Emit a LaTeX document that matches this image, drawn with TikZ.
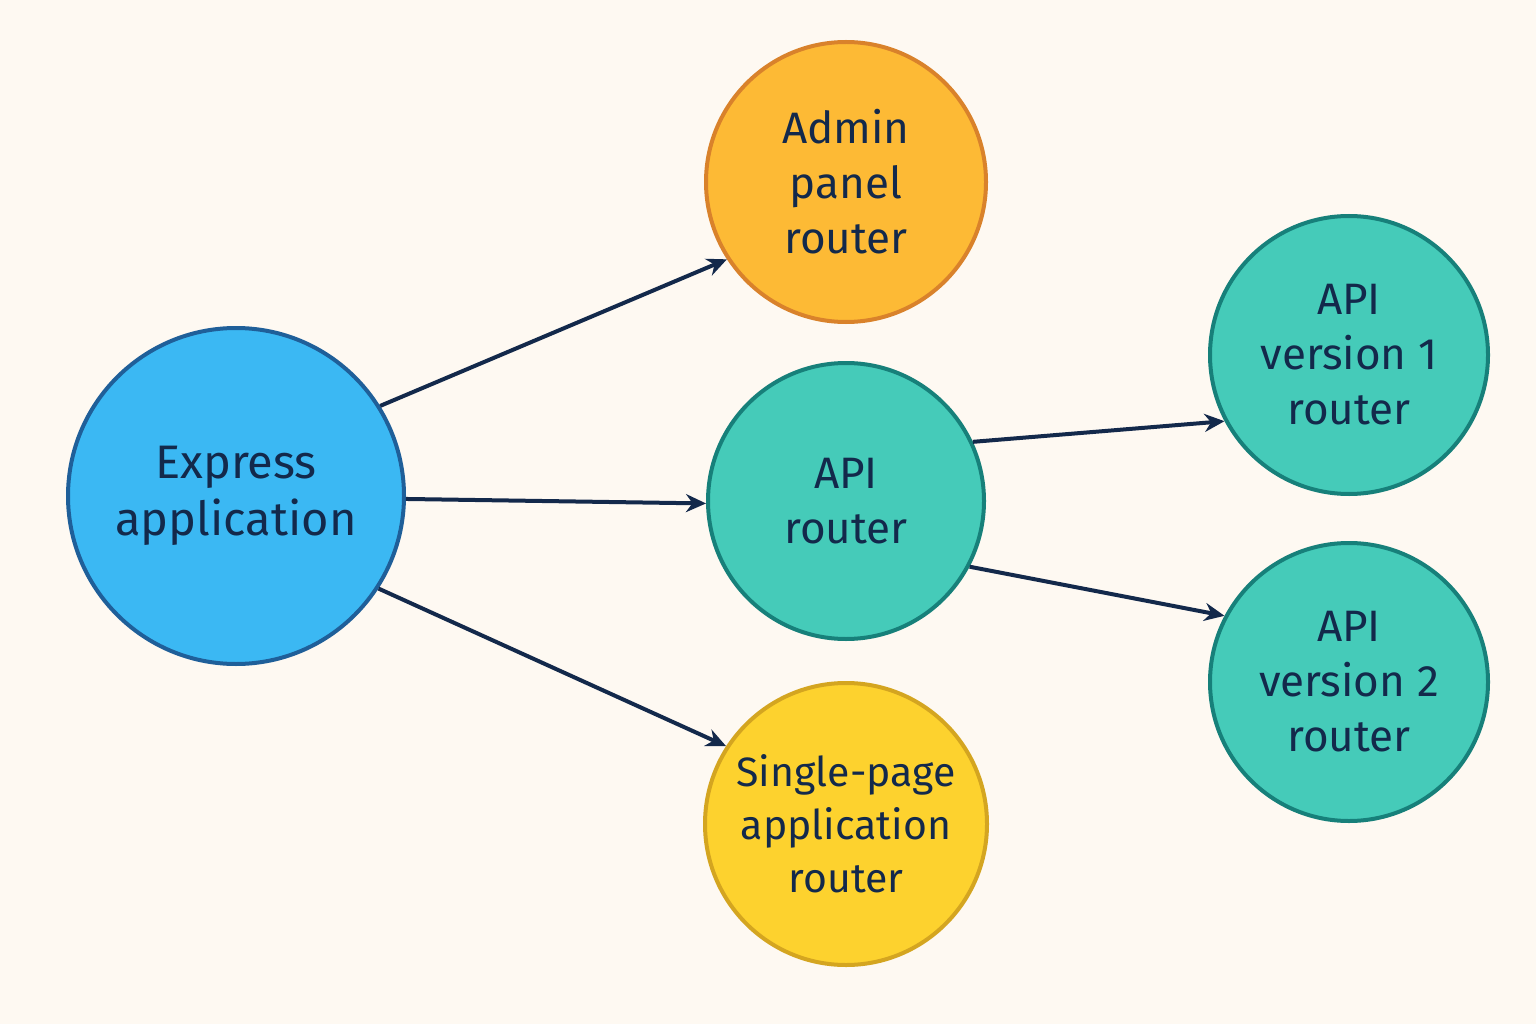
\documentclass[tikz,border=0pt]{standalone}
\usepackage{fontspec}
\setmainfont{Fira Sans}
\usetikzlibrary{arrows.meta}
\definecolor{bg}{HTML}{FEF9F2}
\definecolor{ink}{HTML}{13294B}
\definecolor{bluef}{HTML}{3BB8F3}\definecolor{blued}{HTML}{1F5F99}
\definecolor{orf}{HTML}{FDBA35}\definecolor{ord}{HTML}{D9822B}
\definecolor{tlf}{HTML}{45CBB9}\definecolor{tld}{HTML}{17807A}
\definecolor{yef}{HTML}{FDD22E}\definecolor{yed}{HTML}{D4A520}
\begin{document}
\begin{tikzpicture}[x=1pt,y=-1pt,
 nd/.style={circle,inner sep=0pt,line width=4pt,text=ink,align=center,font=\fontsize{44}{55}\selectfont},
 ar/.style={draw=ink,line width=4pt,-{Stealth[length=20pt,width=18pt]}}]
\fill[bg] (0,0) rectangle (1536,1024);
\useasboundingbox (0,0) rectangle (1536,1024);
\node[nd,minimum size=336pt,fill=bluef,draw=blued,font=\fontsize{47}{57}\selectfont] (e) at (236,496) {Express\\application};
\node[nd,minimum size=280pt,fill=orf,draw=ord] (a) at (846,182) {Admin\\panel\\router};
\node[nd,minimum size=276pt,fill=tlf,draw=tld] (r) at (846,501) {API\\router};
\node[nd,minimum size=282pt,fill=yef,draw=yed,font=\fontsize{41}{53}\selectfont] (s) at (846,824) {Single-page\\application\\router};
\node[nd,minimum size=278pt,fill=tlf,draw=tld] (v1) at (1349,355) {API\\version 1\\router};
\node[nd,minimum size=278pt,fill=tlf,draw=tld] (v2) at (1349,682) {API\\version 2\\router};
\draw[ar] (e.32) -- (a.213);
\draw[ar] (e.-1) -- (r.181);
\draw[ar] (e.-33) -- (s.147);
\draw[ar] (r.25) -- (v1.208);
\draw[ar] (r.-28) -- (v2.152);
\end{tikzpicture}
\end{document}
